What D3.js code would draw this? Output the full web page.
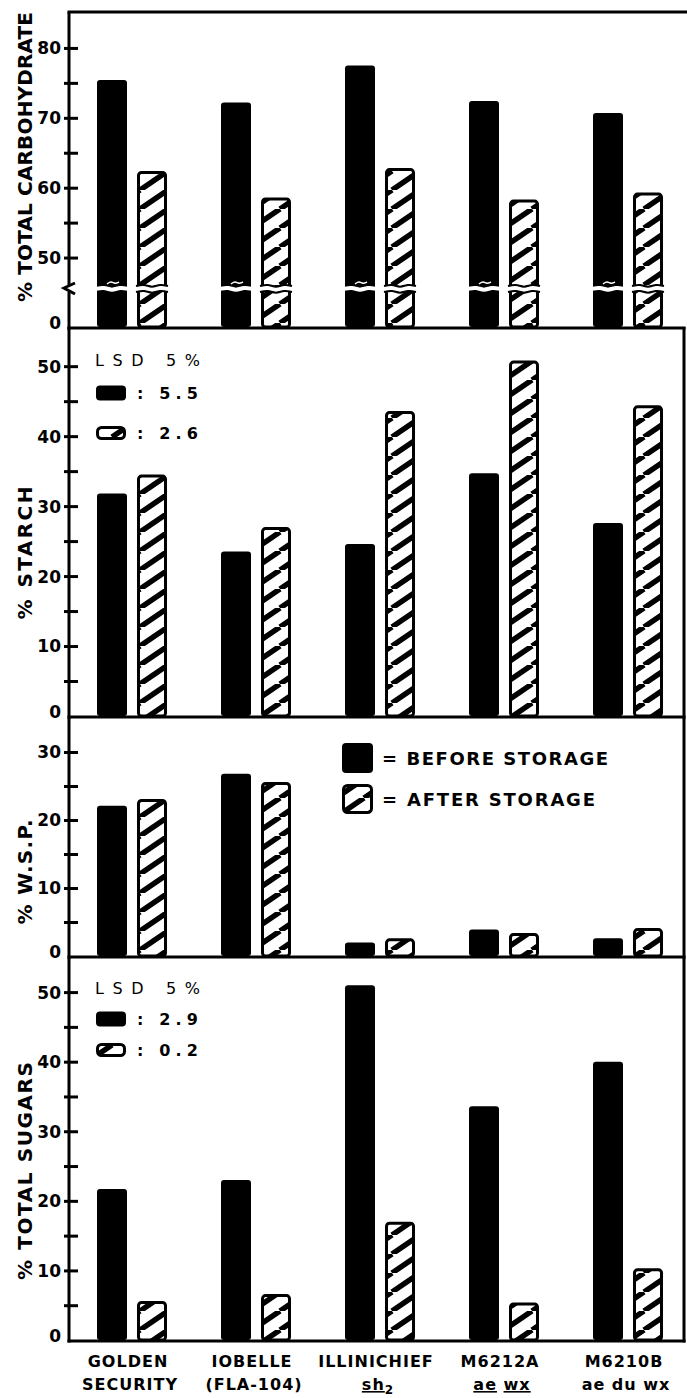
<!DOCTYPE html>
<html lang="en">
<head>
<meta charset="UTF-8">
<title>Carbohydrate fractions before and after storage</title>
<script src="https://d3js.org/d3.v7.min.js"></script>
<style>
  body { margin: 0; background: #fff; }
  svg { display: block; font-family: "DejaVu Sans", sans-serif; }
  .tick text { font-size: 17px; font-weight: bold; fill: #000; }
  .tick line { stroke: #000; stroke-width: 3; }
  .ytitle { font-size: 20px; font-weight: bold; }
  .xlab { font-size: 16px; font-weight: bold; letter-spacing: 1px; }
  .lsd { font-size: 16px; }
  .key { font-size: 18px; font-weight: bold; }
</style>
</head>
<body>
<svg width="687" height="1398"></svg>
<script>
// data
const varieties = ["Golden Security", "Iobelle (FLA-104)", "Illinichief sh2", "M6212A ae wx", "M6210B ae du wx"];
const labelTop = ["GOLDEN", "IOBELLE", "ILLINICHIEF", "M6212A", "M6210B"];
const labelBottom = ["SECURITY", "(FLA-104)", "sh|2", "ae wx", "ae du wx"];

const carbBefore = [75.4, 72.2, 77.5, 72.4, 70.7];
const carbAfter  = [62.4, 58.6, 62.8, 58.3, 59.3];
const starchBefore = [31.8, 23.5, 24.6, 34.7, 27.6];
const starchAfter  = [34.5, 27.0, 43.6, 50.8, 44.4];
const wspBefore = [22.1, 26.8, 2.0, 3.9, 2.6];
const wspAfter  = [23.1, 25.6, 2.6, 3.4, 4.1];
const sugarBefore = [21.7, 23.0, 51.0, 33.6, 40.0];
const sugarAfter  = [5.6, 6.6, 17.0, 5.4, 10.3];

const carbTicks = [0, 50, 60, 70, 80],  carbMinor = [55, 65, 75];
const starchTicks = [0, 10, 20, 30, 40, 50], starchMinor = [5, 15, 25, 35, 45];
const wspTicks = [0, 10, 20, 30], wspMinor = [5, 15, 25];
const sugarTicks = [0, 10, 20, 30, 40, 50], sugarMinor = [5, 15, 25, 35, 45];

const starchLsd = ["5.5", "2.6"];
const sugarLsd = ["2.9", "0.2"];

const axisX = 69, rightX = 684;

const panels = [
  { title: "% TOTAL CARBOHYDRATE", before: carbBefore, after: carbAfter, ticks: carbTicks, minor: carbMinor,
    domain: [0, 45.5, 85], range: [327, 289, 13], top: 12, titleY: 157, titleLen: 290, brk: 45.5 },
  { title: "% STARCH", before: starchBefore, after: starchAfter, ticks: starchTicks, minor: starchMinor,
    domain: [0, 55.6], range: [716, 327], top: 327, titleY: 553, titleLen: 133,
    lsd: starchLsd, lsdY: [360, 393, 433] },
  { title: "% W.S.P.", before: wspBefore, after: wspAfter, ticks: wspTicks, minor: wspMinor,
    domain: [0, 35], range: [956, 718], top: 718, titleY: 872, titleLen: 105, key: true },
  { title: "% TOTAL SUGARS", before: sugarBefore, after: sugarAfter, ticks: sugarTicks, minor: sugarMinor,
    domain: [0, 54.9], range: [1340, 958], top: 958, titleY: 1171, titleLen: 218,
    lsd: sugarLsd, lsdY: [988, 1019, 1050] }
];

const svg = d3.select("svg");

// hatch pattern for "after storage"
const defs = svg.append("defs");
defs.append("pattern")
  .attr("id", "hatch")
  .attr("patternUnits", "userSpaceOnUse")
  .attr("width", 28).attr("height", 19)
  .append("path")
  .attr("d", "M-28,19 L0,0 M0,19 L28,0 M28,19 L56,0")
  .attr("stroke", "#000").attr("stroke-width", 5.5).attr("fill", "none");

const x = d3.scaleBand().domain(varieties).range([70, 690]);
const barW = 30;

function hatchedRect(g, x0, y0, w, h, rx) {
  g.append("rect").attr("x", x0 + 1.5).attr("y", y0 + 1.5)
    .attr("width", w - 3).attr("height", Math.max(h - 3, 0)).attr("rx", rx)
    .attr("fill", "#fff");
  g.append("rect").attr("x", x0 + 1.5).attr("y", y0 + 1.5)
    .attr("width", w - 3).attr("height", Math.max(h - 3, 0)).attr("rx", rx)
    .attr("fill", "url(#hatch)").attr("stroke", "#000").attr("stroke-width", 3);
}

const wave = d3.line().curve(d3.curveBasis);

panels.forEach(p => {
  const y = d3.scaleLinear().domain(p.domain).range(p.range);
  const g = svg.append("g");
  const base = y(0);

  // bars
  varieties.forEach((v, i) => {
    const cx = x(v) + x.bandwidth() / 2;
    const xb = cx - 35, xa = cx + 5;
    g.append("rect")
      .attr("x", xb).attr("y", y(p.before[i]))
      .attr("width", barW).attr("height", base - y(p.before[i]))
      .attr("rx", 3).attr("fill", "#000");
    hatchedRect(g, xa, y(p.after[i]), barW, base - y(p.after[i]) + 1.5, 3);

    if (p.brk) {
      const yb = y(p.brk);
      [xb, xa].forEach((x0, k) => {
        const pts = [[x0 - 1, yb], [x0 + 7, yb - 2], [x0 + 15, yb + 2], [x0 + 23, yb - 2], [x0 + barW + 1, yb]];
        g.append("path").attr("d", wave(pts)).attr("fill", "none")
          .attr("stroke", "#fff").attr("stroke-width", k ? 5 : 4);
        if (k) {
          [-3, 3].forEach(o => {
            g.append("path").attr("d", wave(pts.map(d => [d[0], d[1] + o])))
              .attr("fill", "none").attr("stroke", "#000").attr("stroke-width", 2);
          });
        }
      });
      // notch in the black bar
      g.append("path").attr("d", wave([[xb + 10, yb - 5], [xb + 14, yb - 8], [xb + 18, yb - 5], [xb + 22, yb - 7]]))
        .attr("fill", "none").attr("stroke", "#fff").attr("stroke-width", 1.5);
    }
  });

  // axis ticks
  const axG = g.append("g").attr("transform", `translate(${axisX},0)`);
  axG.append("g").call(d3.axisLeft(y).tickValues(p.minor).tickSize(-9).tickFormat(""))
    .call(a => a.select(".domain").remove())
    .call(a => a.selectAll(".tick line").attr("x1", -5));
  axG.append("g").call(d3.axisLeft(y).tickValues(p.ticks).tickSize(-9).tickPadding(8).tickFormat(d3.format("d")))
    .call(a => a.select(".domain").remove())
    .call(a => a.selectAll(".tick line").attr("x1", d => d === 0 ? 0 : -5).attr("x2", d => d === 0 ? 0 : 9))
    .call(a => a.selectAll(".tick text").attr("font-family", "DejaVu Sans").attr("dy", d => d === 0 ? "0.1em" : "0.35em"));

  // frame
  g.append("line").attr("x1", axisX - 1.5).attr("x2", rightX + 1.5)
    .attr("y1", base + 1).attr("y2", base + 1)
    .attr("stroke", "#000").attr("stroke-width", 3);
  g.append("line").attr("x1", axisX).attr("x2", axisX)
    .attr("y1", p.top).attr("y2", base + 2.5)
    .attr("stroke", "#000").attr("stroke-width", 3);
  if (p.brk) {
    g.append("line").attr("x1", axisX - 1.5).attr("x2", 687)
      .attr("y1", p.top).attr("y2", p.top)
      .attr("stroke", "#000").attr("stroke-width", 3);
    const yb = y(p.brk);
    g.append("rect").attr("x", axisX - 3).attr("y", yb - 3).attr("width", 6).attr("height", 6).attr("fill", "#fff");
    g.append("path").attr("d", `M${axisX + 6},${yb - 6} L${axisX - 5},${yb - 1} L${axisX + 6},${yb + 5}`)
      .attr("fill", "none").attr("stroke", "#000").attr("stroke-width", 3);
  } else {
    g.append("line").attr("x1", rightX).attr("x2", rightX)
      .attr("y1", p.top).attr("y2", base + 2.5)
      .attr("stroke", "#000").attr("stroke-width", 3);
  }

  // y title
  g.append("text").attr("class", "ytitle")
    .attr("transform", `translate(25,${p.titleY}) rotate(-90)`)
    .attr("text-anchor", "middle").attr("dominant-baseline", "central")
    .attr("textLength", p.titleLen).attr("lengthAdjust", "spacing")
    .text(p.title);

  // LSD legend
  if (p.lsd) {
    g.append("text").attr("class", "lsd").attr("x", 95).attr("y", p.lsdY[0])
      .attr("dominant-baseline", "central").attr("textLength", 105).attr("lengthAdjust", "spacing")
      .text("LSD 5%");
    g.append("rect").attr("x", 96).attr("y", p.lsdY[1] - 7.5).attr("width", 30).attr("height", 15)
      .attr("rx", 4).attr("fill", "#000");
    hatchedRect(g, 96, p.lsdY[2] - 7, 30, 14, 4);
    p.lsd.forEach((d, k) => {
      g.append("text").attr("class", "lsd").attr("x", 137).attr("y", p.lsdY[k + 1])
        .attr("dominant-baseline", "central").attr("font-weight", "bold")
        .attr("textLength", 61).attr("lengthAdjust", "spacing")
        .text(": " + d);
    });
  }

  // storage key
  if (p.key) {
    g.append("rect").attr("x", 342).attr("y", 743).attr("width", 31).attr("height", 30)
      .attr("rx", 4).attr("fill", "#000");
    hatchedRect(g, 342, 784, 31, 30, 4);
    g.append("text").attr("class", "key").attr("x", 382).attr("y", 758)
      .attr("dominant-baseline", "central").attr("textLength", 226).attr("lengthAdjust", "spacing")
      .text("= BEFORE STORAGE");
    g.append("text").attr("class", "key").attr("x", 382).attr("y", 799)
      .attr("dominant-baseline", "central").attr("textLength", 213).attr("lengthAdjust", "spacing")
      .text("= AFTER STORAGE");
  }
});

// category labels
varieties.forEach((v, i) => {
  const cx = x(v) + x.bandwidth() / 2;
  svg.append("text").attr("class", "xlab").attr("x", cx - 4).attr("y", 1367)
    .attr("text-anchor", "middle").text(labelTop[i]);
  const t = svg.append("text").attr("class", "xlab").attr("x", cx - 2).attr("y", 1390)
    .attr("text-anchor", "middle");
  const s = labelBottom[i];
  if (s.includes("|")) {
    const [a, b] = s.split("|");
    t.append("tspan").attr("text-decoration", "underline").text(a);
    t.append("tspan").attr("font-size", "12px").attr("dy", 4).text(b);
  } else if (i === 3) {
    t.append("tspan").attr("text-decoration", "underline").text("ae");
    t.append("tspan").text(" ");
    t.append("tspan").attr("text-decoration", "underline").text("wx");
  } else {
    t.text(s);
  }
});
</script>
</body>
</html>
